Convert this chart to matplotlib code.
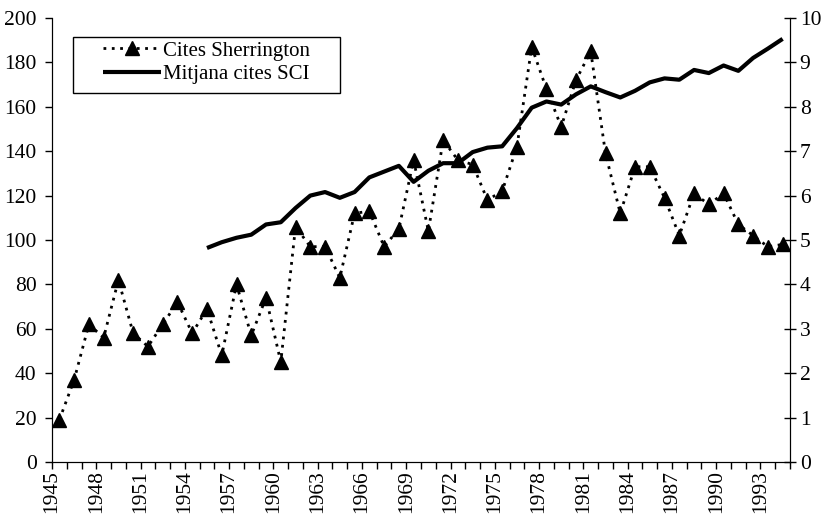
import numpy as np
import matplotlib
matplotlib.use('Agg')
import matplotlib.pyplot as plt
from matplotlib.patches import Rectangle

plt.rcParams['font.family'] = ['Liberation Serif', 'DejaVu Serif']

# data
years = list(range(1945, 1995))
sherrington = [19, 37, 62, 56, 82, 58, 52, 62, 72, 58,
               69, 48, 80, 57, 74, 45, 106, 97, 97, 83,
               112, 113, 97, 105, 136, 104, 145, 136, 134, 118,
               122, 142, 187, 168, 151, 172, 185, 139, 112, 133,
               133, 119, 102, 121, 116, 121, 107, 102, 97, 98]
sci_years = list(range(1955, 1995))
sci = [4.82, 4.95, 5.05, 5.12, 5.35, 5.40, 5.72, 6.00, 6.08, 5.95,
       6.08, 6.41, 6.54, 6.67, 6.31, 6.56, 6.73, 6.73, 6.98, 7.08,
       7.11, 7.52, 7.98, 8.12, 8.05, 8.28, 8.46, 8.33, 8.21, 8.36,
       8.55, 8.64, 8.61, 8.83, 8.76, 8.93, 8.81, 9.10, 9.31, 9.53]
label_years = years[::3]

fig = plt.figure(figsize=(8.21, 5.15), dpi=100)
ax = fig.add_axes([52/821, 53/515, 738/821, 444/515])

# category axis: each year sits in the middle of its slot
x = np.arange(len(years)) + 0.5
x_sci = np.array([years.index(y) for y in sci_years]) + 0.5

l1, = ax.plot(x, sherrington, color='black', linestyle=(0, (1, 2)), linewidth=2,
              marker='^', markersize=9.5, markerfacecolor='black', markeredgecolor='black')
ax.set_xlim(0, len(years))
ax.set_ylim(0, 200)
ax.set_yticks(range(0, 201, 20))
ax.set_xticks(range(0, len(years) + 1))
ax.set_xticklabels([str(y) if y in label_years else '' for y in years] + [''],
                   rotation=90, fontsize=15.5)
ax.tick_params(axis='x', direction='out', length=5, width=1, pad=1)
ax.tick_params(axis='y', direction='out', length=5, width=1, pad=6, labelsize=15.5)
ax.spines['top'].set_visible(False)

ax2 = ax.twinx()
l2, = ax2.plot(x_sci, sci, color='black', linewidth=3, solid_capstyle='butt')
ax2.set_ylim(0, 10)
ax2.set_yticks(range(0, 11))
ax2.tick_params(axis='y', direction='inout', length=8, width=1, pad=3, labelsize=15.5)
ax2.spines['top'].set_visible(False)

# legend box drawn like the Excel one
ax2.add_patch(Rectangle((0.0285, 0.831), 0.362, 0.126, transform=ax2.transAxes,
                        facecolor='white', edgecolor='black', linewidth=1, zorder=5))
leg = ax2.legend([l1, l2], ['Cites Sherrington', 'Mitjana cites SCI'],
                 loc='upper left', bbox_to_anchor=(0.069, 0.948), frameon=False,
                 borderpad=0, borderaxespad=0, handlelength=2.8, handletextpad=0.1,
                 labelspacing=0.2, fontsize=15)
leg.set_zorder(6)

fig.savefig('out.png', dpi=100, facecolor='white')
